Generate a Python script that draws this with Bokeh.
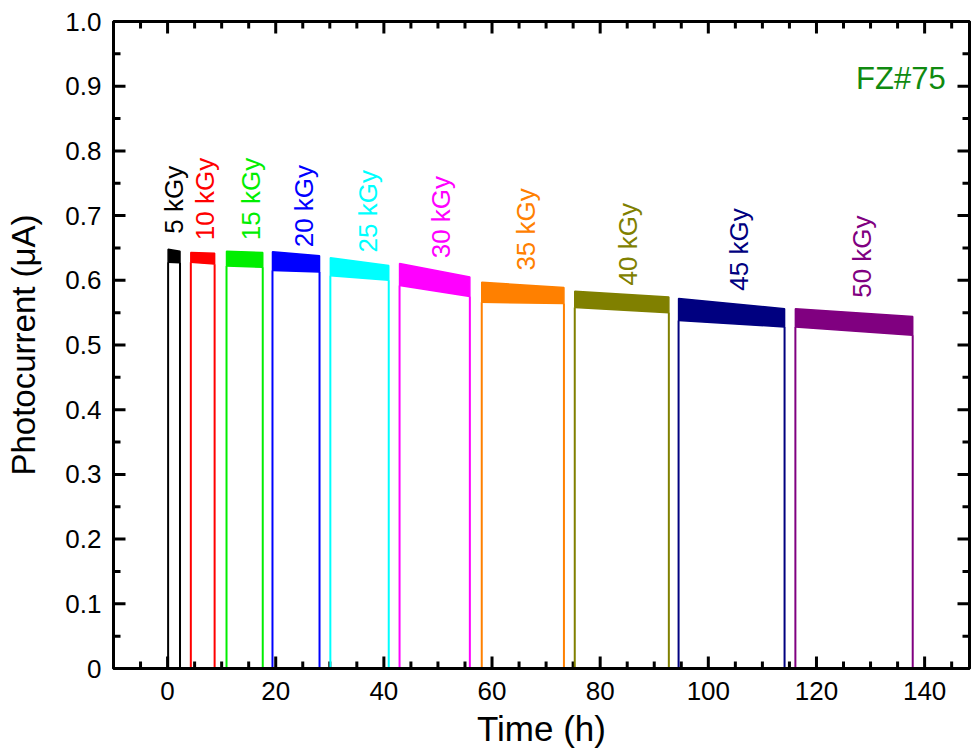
import numpy as np
from bokeh.plotting import figure
from bokeh.models import (LinearAxis, FixedTicker, CustomJSTickFormatter, Range1d,
                          ColumnDataSource, Label)
from bokeh.embed import file_html
from bokeh.resources import INLINE
from bokeh.core.properties import value

# ---- data ----
doses = ["5 kGy", "10 kGy", "15 kGy", "20 kGy", "25 kGy",
         "30 kGy", "35 kGy", "40 kGy", "45 kGy", "50 kGy"]
colors = ["#000000", "#FF0000", "#00EE00", "#0000FF", "#00FFFF",
          "#FF00FF", "#FF8000", "#808000", "#000080", "#800080"]
t_on = [0.1, 4.3, 10.9, 19.4, 30.1, 42.9, 58.1, 75.3, 94.5, 116.1]
t_off = [2.3, 8.7, 17.6, 28.1, 40.9, 55.9, 73.3, 92.7, 114.1, 137.8]
top_start = [0.648, 0.643, 0.645, 0.644, 0.635, 0.626, 0.597, 0.583, 0.572, 0.556]
top_end = [0.645, 0.642, 0.643, 0.638, 0.623, 0.605, 0.589, 0.574, 0.556, 0.544]
bot_start = [0.628, 0.628, 0.622, 0.615, 0.607, 0.592, 0.566, 0.558, 0.538, 0.528]
bot_end = [0.627, 0.625, 0.620, 0.613, 0.600, 0.575, 0.564, 0.550, 0.528, 0.515]
label_x = [1.1, 7.0, 15.4, 25.2, 37.0, 50.5, 66.2, 85.1, 105.6, 128.5]
label_y = [0.672, 0.662, 0.662, 0.651, 0.643, 0.634, 0.615, 0.592, 0.584, 0.573]

x_ticks = [0, 20, 40, 60, 80, 100, 120, 140]
y_ticks = [0.0, 0.1, 0.2, 0.3, 0.4, 0.5, 0.6, 0.7, 0.8, 0.9, 1.0]
x_minor = [v for v in range(-5, 150, 5) if v % 20 != 0]
y_minor = [round(0.05 + 0.1 * i, 2) for i in range(10)]

X0, X1 = -10, 148.3
Y0, Y1 = 0.0, 1.0
W, H = 971, 751
BL, BR, BT, BB = 113, 2, 21, 83
FONT = "Liberation Sans"

p = figure(width=W, height=H, output_backend="svg", toolbar_location=None,
           x_range=Range1d(X0, X1), y_range=Range1d(Y0, Y1),
           min_border_left=BL, min_border_right=BR, min_border_top=BT,
           min_border_bottom=BB)
p.xgrid.visible = False
p.ygrid.visible = False
p.outline_line_color = "black"
p.outline_line_width = 3
p.background_fill_color = "white"
p.border_fill_color = "white"

xt = FixedTicker(ticks=x_ticks, minor_ticks=x_minor)
yt = FixedTicker(ticks=y_ticks, minor_ticks=y_minor)


def style(ax, labels=True):
    ax.axis_line_width = 3
    ax.axis_line_color = "black"
    ax.major_tick_in = 0
    ax.major_tick_out = 0
    ax.minor_tick_in = 0
    ax.minor_tick_out = 0
    if labels:
        ax.major_label_text_font = FONT
        ax.major_label_text_font_size = "26px"
        ax.major_label_text_color = "black"
        ax.axis_label_text_font = FONT
        ax.axis_label_text_font_style = "normal"
        ax.axis_label_text_color = "black"
    else:
        ax.formatter = CustomJSTickFormatter(code="return '';")
        ax.major_label_text_font_size = "1px"
        ax.major_label_standoff = 0


xa = p.xaxis[0]
xa.ticker = xt
xa.axis_label = "Time (h)"
style(xa)
xa.axis_label_text_font_size = "35px"
xa.major_label_standoff = 13
xa.axis_label_standoff = 6

ya = p.yaxis[0]
ya.ticker = yt
ya.axis_label = "Photocurrent (\u03bcA)"
ya.formatter = CustomJSTickFormatter(code="return tick == 0 ? '0' : tick.toFixed(1);")
style(ya)
ya.axis_label_text_font_size = "33px"
ya.major_label_standoff = 12
ya.axis_label_standoff = 20

top_ax = LinearAxis(ticker=FixedTicker(ticks=x_ticks, minor_ticks=x_minor))
style(top_ax, labels=False)
p.add_layout(top_ax, "above")
right_ax = LinearAxis(ticker=FixedTicker(ticks=y_ticks, minor_ticks=y_minor))
style(right_ax, labels=False)
p.add_layout(right_ax, "right")

# inward tick marks on all four sides at the axis tick values
# (tick lengths converted from pixels to data units via the frame size)
px_x = (X1 - X0) / (W - BL - BR)
px_y = (Y1 - Y0) / (H - BT - BB)
tx0, ty0, tx1, ty1 = [], [], [], []
for vals, ln in ((x_ticks, 12), (x_minor, 7)):
    for v in vals:
        tx0 += [v, v]; tx1 += [v, v]
        ty0 += [Y0, Y1]; ty1 += [Y0 + ln * px_y, Y1 - ln * px_y]
for vals, ln in ((y_ticks, 12), (y_minor, 7)):
    for v in vals:
        ty0 += [v, v]; ty1 += [v, v]
        tx0 += [X0, X1]; tx1 += [X0 + ln * px_x, X1 - ln * px_x]
p.segment(x0=tx0, y0=ty0, x1=tx1, y1=ty1, line_color="black", line_width=3)

# ---- traces: rising edge, noisy plateau band, falling edge ----
band = ColumnDataSource(dict(
    xs=[[a, a, b, b] for a, b in zip(t_on, t_off)],
    ys=[[bs, ts, te, be] for bs, ts, te, be in zip(bot_start, top_start, top_end, bot_end)],
    color=colors,
))
p.patches("xs", "ys", source=band, fill_color="color", line_color="color", line_width=1.5)

edges = ColumnDataSource(dict(
    x=t_on + t_off,
    y0=[0] * (2 * len(t_on)),
    y1=bot_start + bot_end,
    color=colors + colors,
))
p.segment(x0="x", y0="y0", x1="x", y1="y1", source=edges, line_color="color", line_width=2)

labels = ColumnDataSource(dict(x=label_x, y=label_y, text=doses, color=colors))
p.text(x="x", y="y", text="text", source=labels, angle=np.pi / 2,
       text_align="left", text_baseline="middle", text_color="color",
       text_font=value(FONT), text_font_size="26px")

p.add_layout(Label(x=143.9, y=0.912, text="FZ#75", text_align="right",
                   text_baseline="alphabetic", text_color="#108a10",
                   text_font=FONT, text_font_size="31px"))

open("out.html", "w").write(file_html(p, INLINE))
